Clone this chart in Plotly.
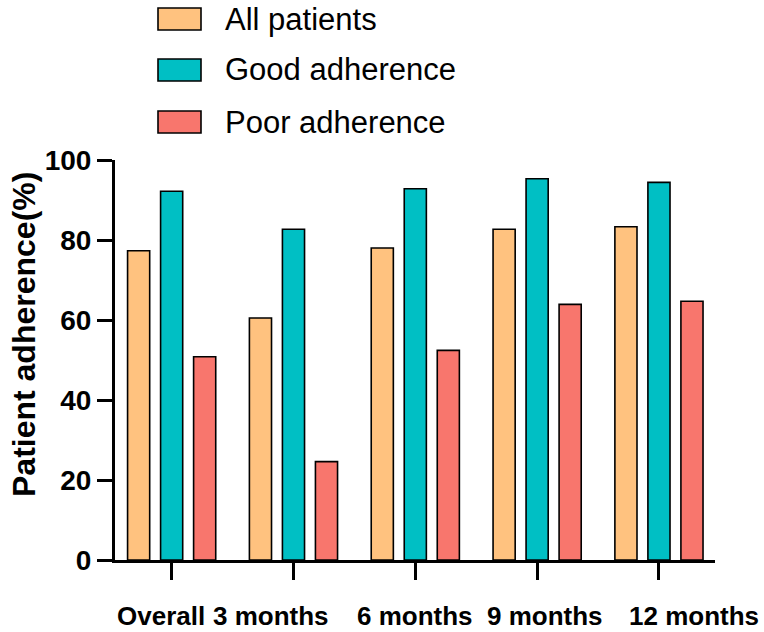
import plotly.graph_objects as go

categories = ["Overall", "3 months", "6 months", "9 months", "12 months"]
series_names = ["All patients", "Good adherence", "Poor adherence"]
all_patients = [77.3, 60.5, 78.0, 82.7, 83.3]
good_adherence = [92.2, 82.7, 92.8, 95.3, 94.4]
poor_adherence = [50.8, 24.6, 52.4, 63.9, 64.7]
y_ticks = [0, 20, 40, 60, 80, 100]

colors = ["#FFC27F", "#00BFC4", "#F8766D"]
label_shift = [-11, -22, 0, 8, 35]

W, H = 764, 632
ML, MR, MT, MB = 115, 49, 160, 72
PW, PH = W - ML - MR, H - MT - MB
FONT = "Liberation Sans, Arial, sans-serif"

def px_x(px):
    return (px - ML) / PW

def px_y(py):
    return (H - MB - py) / PH

fig = go.Figure()
for name, vals, col in zip(series_names, [all_patients, good_adherence, poor_adherence], colors):
    fig.add_trace(go.Bar(
        x=categories, y=vals, name=name,
        marker=dict(color=col, line=dict(color="black", width=1.6)),
        showlegend=False,
    ))

# manual legend (large swatches like the original)
row_centers = [19, 70, 122]
for name, col, cy in zip(series_names, colors, row_centers):
    fig.add_shape(type="rect", xref="paper", yref="paper",
                  x0=px_x(158), x1=px_x(201), y0=px_y(cy + 11), y1=px_y(cy - 11),
                  fillcolor=col, line=dict(color="black", width=1.6))
    fig.add_annotation(xref="paper", yref="paper", x=px_x(224), y=px_y(cy),
                       text=name, showarrow=False, xanchor="left", yanchor="middle",
                       borderpad=0,
                       font=dict(family=FONT, size=31, color="black"))

# category labels
for cat, sh in zip(categories, label_shift):
    fig.add_annotation(xref="x", yref="paper", x=cat, y=0, yshift=-56, xshift=sh,
                       text=cat, showarrow=False, xanchor="center", yanchor="middle",
                       borderpad=0,
                       font=dict(family=FONT, size=26, color="black", weight="bold"))

# y-axis title
fig.add_annotation(xref="paper", yref="paper", x=px_x(24), y=px_y(335),
                   text="Patient adherence(%)", textangle=-90, showarrow=False,
                   xanchor="center", yanchor="middle", borderpad=0,
                   font=dict(family=FONT, size=32, color="black", weight="bold"))

fig.update_layout(
    width=W, height=H, autosize=False,
    margin=dict(l=ML, r=MR, t=MT, b=MB, pad=0),
    paper_bgcolor="white", plot_bgcolor="white",
    barmode="group", bargap=0.187, bargroupgap=0.33,
    xaxis=dict(type="category", range=[-0.465, 4.46], showline=True, linecolor="black",
               linewidth=3, ticks="outside", ticklen=17, tickwidth=3, tickcolor="black",
               showticklabels=False, showgrid=False, zeroline=False),
    yaxis=dict(range=[0, 100], tickvals=y_ticks, showline=True, linecolor="black",
               linewidth=3, ticks="outside", ticklen=15, tickwidth=3, tickcolor="black",
               showgrid=False, zeroline=False,
               tickfont=dict(family=FONT, size=28, color="black", weight="bold")),
)

fig.write_html("out.html", config={"displayModeBar": False},
               post_script="document.body.style.margin='0';document.body.style.overflow='hidden';")
